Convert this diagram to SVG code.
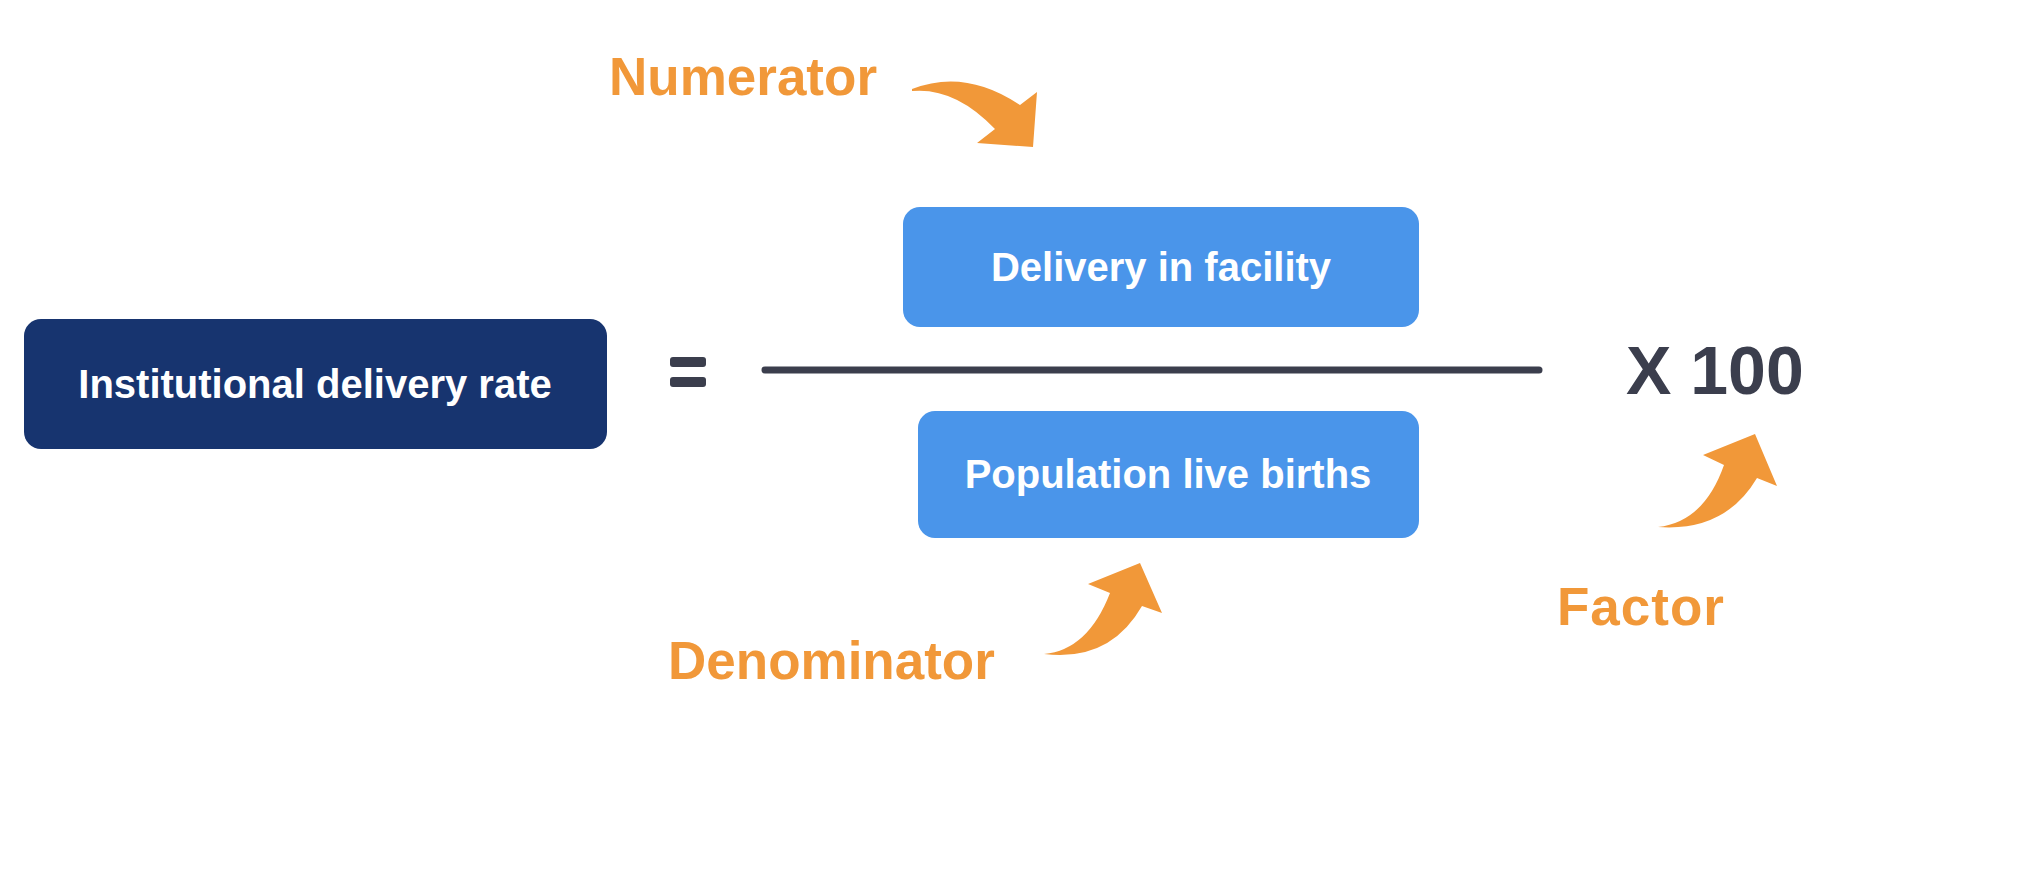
<svg xmlns="http://www.w3.org/2000/svg" width="2042" height="886" viewBox="0 0 2042 886">
<style>
.lbl{font-family:"Liberation Sans",Arial,sans-serif;font-weight:bold;fill:#ffffff;font-size:40px;text-anchor:middle}
.orange{font-family:"Liberation Sans",Arial,sans-serif;font-weight:bold;fill:#F19839;font-size:53px}
.arrow{fill:#F19839}
.dark{fill:#3B3E4D}
</style>
<rect width="2042" height="886" fill="#ffffff"/>
<g id="rate">
<rect x="24" y="319" width="583" height="130" rx="17" fill="#17346F"/>
<text class="lbl" x="315" y="398">Institutional delivery rate</text>
</g>
<g id="equals">
<rect class="dark" x="670" y="357" width="36" height="10" rx="3"/>
<rect class="dark" x="670" y="377" width="36" height="10" rx="3"/>
</g>
<g id="fraction-line">
<line x1="765" y1="370" x2="1539" y2="370" stroke="#3B3E4D" stroke-width="7" stroke-linecap="round"/>
</g>
<g id="numerator-box">
<rect x="903" y="207" width="516" height="120" rx="17" fill="#4A95EA"/>
<text class="lbl" x="1161" y="281">Delivery in facility</text>
</g>
<g id="denominator-box">
<rect x="918" y="411" width="501" height="127" rx="17" fill="#4A95EA"/>
<text class="lbl" x="1168" y="488">Population live births</text>
</g>
<g id="factor-value">
<text x="1626" y="394" font-family="'Liberation Sans',Arial,sans-serif" font-weight="bold" font-size="68" fill="#3B3E4D">X 100</text>
</g>
<g id="numerator-label">
<text class="orange" x="609" y="95">Numerator</text>
</g>
<g id="denominator-label">
<text class="orange" x="668" y="679">Denominator</text>
</g>
<g id="factor-label">
<text class="orange" x="1557" y="625" letter-spacing="1">Factor</text>
</g>
<g id="connectors">
<path class="arrow" d="M912,89 Q965,68 1020,105 L1037,92 L1033,147 L977,143 L995,129 Q955,87 912,91 Z"/>
<path class="arrow" d="M1044,654 Q1088,650 1110,593 L1088,584 L1140,563 L1162,613 L1142,606 Q1110,662 1044,654 Z"/>
<path class="arrow" d="M1658,527 Q1704,522 1724,465 L1703,455 L1755,434 L1777,486 L1757,478 Q1725,532 1658,527 Z"/>
</g>
</svg>
